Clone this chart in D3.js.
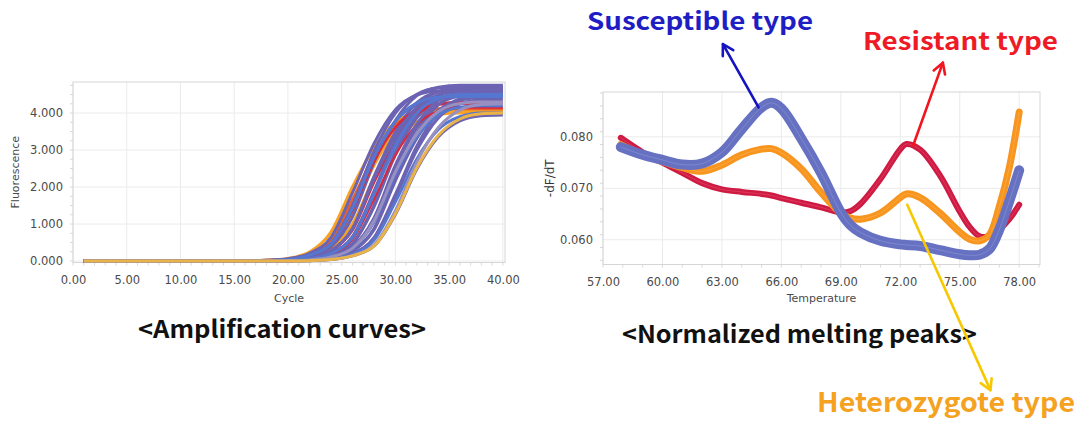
<!DOCTYPE html>
<html><head><meta charset="utf-8">
<script src="https://cdn.jsdelivr.net/npm/d3@7"></script>
<style>html,body{margin:0;padding:0;background:#fff;}svg{display:block;}</style>
</head><body>
<svg id="c" width="1082" height="428"></svg>
<script>
// ---------------- DATA ----------------
// Amplification curves (left)
const ampCycles = [1, 16, 18, 20, 22, 24, 26, 28, 30, 32, 34, 36, 38, 40];
const ampXTicks = [0, 5, 10, 15, 20, 25, 30, 35, 40];
const ampYTicks = [0, 1, 2, 3, 4];
const ampColorNames = ["purple", "blue", "grey", "yellow", "orange", "orangered", "red"];
const ampColors = ["#6c63b2", "#5577cf", "#9890c0", "#e9b347", "#f7a223", "#e9602c", "#d6293f"];
const ampGroups = [
  "orange","orange","orange","orange","orangered",
  "purple","purple","purple","purple","purple","purple",
  "red","red",
  "purple","purple","purple","purple","purple","purple",
  "red",
  "purple","purple","purple","purple","purple",
  "blue","blue","blue","blue","grey","grey","yellow"
];
const ampValues = [
  [0, 0.01, 0.02, 0.07, 0.24, 0.78, 2.00, 3.06, 3.75, 4.02, 4.08, 4.08, 4.08, 4.08],
  [0, 0.01, 0.02, 0.05, 0.18, 0.57, 1.62, 2.79, 3.60, 3.95, 4.05, 4.05, 4.05, 4.05],
  [0, 0, 0.01, 0.04, 0.14, 0.41, 1.31, 2.58, 3.49, 3.94, 4.08, 4.10, 4.10, 4.10],
  [0, 0, 0.01, 0.03, 0.10, 0.32, 1.00, 2.24, 3.20, 3.76, 3.96, 4.00, 4.00, 4.00],
  [0, 0.01, 0.02, 0.05, 0.19, 0.58, 1.65, 2.84, 3.67, 4.02, 4.12, 4.12, 4.12, 4.12],
  [0, 0.01, 0.02, 0.06, 0.21, 0.64, 1.84, 3.17, 4.09, 4.49, 4.60, 4.60, 4.60, 4.60],
  [0, 0, 0.01, 0.05, 0.16, 0.47, 1.50, 2.96, 4.00, 4.51, 4.68, 4.70, 4.70, 4.70],
  [0, 0, 0.01, 0.03, 0.12, 0.38, 1.19, 2.66, 3.80, 4.47, 4.70, 4.75, 4.75, 4.75],
  [0, 0, 0.01, 0.02, 0.08, 0.28, 0.88, 2.28, 3.49, 4.28, 4.58, 4.65, 4.65, 4.65],
  [0, 0, 0.01, 0.02, 0.06, 0.21, 0.64, 1.84, 3.17, 4.09, 4.49, 4.60, 4.60, 4.60],
  [0, 0, 0, 0.01, 0.05, 0.16, 0.46, 1.46, 2.87, 3.87, 4.37, 4.53, 4.55, 4.55],
  [0, 0, 0.01, 0.04, 0.15, 0.43, 1.36, 2.68, 3.61, 4.08, 4.23, 4.25, 4.25, 4.25],
  [0, 0, 0.01, 0.02, 0.08, 0.26, 0.82, 2.11, 3.23, 3.96, 4.24, 4.30, 4.30, 4.30],
  [0, 0, 0, 0.01, 0.05, 0.16, 0.47, 1.50, 2.95, 3.98, 4.49, 4.66, 4.68, 4.68],
  [0, 0, 0, 0.01, 0.03, 0.11, 0.36, 1.13, 2.52, 3.60, 4.23, 4.46, 4.50, 4.50],
  [0, 0, 0, 0.01, 0.02, 0.08, 0.27, 0.84, 2.17, 3.32, 4.07, 4.35, 4.42, 4.42],
  [0, 0, 0, 0.01, 0.02, 0.08, 0.28, 0.87, 2.25, 3.45, 4.23, 4.53, 4.60, 4.60],
  [0, 0, 0, 0.01, 0.02, 0.06, 0.20, 0.61, 1.74, 3.00, 3.87, 4.24, 4.35, 4.35],
  [0, 0, 0, 0, 0.01, 0.04, 0.14, 0.40, 1.26, 2.49, 3.36, 3.79, 3.93, 3.95],
  [0, 0, 0.01, 0.02, 0.05, 0.19, 0.58, 1.66, 2.86, 3.69, 4.05, 4.15, 4.15, 4.15],
  [0, 0, 0.01, 0.02, 0.08, 0.27, 0.86, 2.21, 3.38, 4.14, 4.43, 4.50, 4.50, 4.50],
  [0, 0, 0.01, 0.02, 0.06, 0.21, 0.66, 1.88, 3.24, 4.18, 4.58, 4.70, 4.70, 4.70],
  [0, 0, 0, 0.01, 0.03, 0.12, 0.37, 1.16, 2.59, 3.70, 4.34, 4.57, 4.62, 4.62],
  [0, 0, 0, 0.01, 0.02, 0.06, 0.20, 0.63, 1.80, 3.11, 4.01, 4.39, 4.50, 4.50],
  [0, 0, 0.01, 0.04, 0.16, 0.45, 1.42, 2.80, 3.78, 4.27, 4.43, 4.45, 4.45, 4.45],
  [0, 0, 0.01, 0.02, 0.06, 0.20, 0.63, 1.80, 3.11, 4.01, 4.39, 4.50, 4.50, 4.50],
  [0, 0, 0, 0.01, 0.03, 0.11, 0.34, 1.05, 2.35, 3.36, 3.95, 4.16, 4.20, 4.20],
  [0, 0, 0, 0.01, 0.02, 0.05, 0.18, 0.56, 1.60, 2.76, 3.56, 3.90, 4.00, 4.00],
  [0, 0, 0.01, 0.04, 0.16, 0.45, 1.42, 2.80, 3.78, 4.27, 4.43, 4.45, 4.45, 4.45],
  [0, 0, 0, 0.01, 0.03, 0.11, 0.34, 1.08, 2.41, 3.44, 4.04, 4.26, 4.30, 4.30],
  [0, 0, 0, 0, 0.01, 0.04, 0.15, 0.43, 1.36, 2.68, 3.61, 4.08, 4.23, 4.25],
  [0, 0, 0, 0, 0.01, 0.04, 0.14, 0.40, 1.28, 2.52, 3.40, 3.84, 3.98, 4.00]
];

// Normalized melting peaks (right)
const meltTemps = [57.9, 59, 60, 61, 62, 63, 64, 65, 65.5, 66, 67, 68, 69, 69.5, 70, 71, 72, 72.3, 73, 74, 75, 75.5, 76, 76.5, 77, 77.5, 78];
const meltResistant = [0.0798, 0.0770, 0.0750, 0.0730, 0.0710, 0.0698, 0.0693, 0.0689, 0.0686, 0.0681, 0.0672, 0.0663, 0.0653, 0.0656, 0.0670, 0.0718, 0.0776, 0.0786, 0.0775, 0.0725, 0.0655, 0.0625, 0.0607, 0.0607, 0.0620, 0.0640, 0.0668];
const meltHeterozygote = [0.0785, 0.0765, 0.0752, 0.0740, 0.0733, 0.0745, 0.0765, 0.0776, 0.0777, 0.0769, 0.0738, 0.0692, 0.0652, 0.0642, 0.0640, 0.0652, 0.0682, 0.0689, 0.0682, 0.0652, 0.0615, 0.0601, 0.0598, 0.0610, 0.0665, 0.0740, 0.0848];
const meltSusceptible = [0.0780, 0.0765, 0.0755, 0.0746, 0.0748, 0.0770, 0.0815, 0.0857, 0.0866, 0.0855, 0.0797, 0.0730, 0.0653, 0.0628, 0.0614, 0.0598, 0.0591, 0.0590, 0.0588, 0.0580, 0.0572, 0.0570, 0.0571, 0.0582, 0.0620, 0.0675, 0.0735];
const meltXTicks = [57, 60, 63, 66, 69, 72, 75, 78];
const meltYTicks = [0.060, 0.070, 0.080];

// Annotations
const annLabels = ["Susceptible type", "Resistant type", "Heterozygote type"];
const annColors = ["#1e1ec4", "#ee1b27", "#f4a21f"];
const arrowColors = ["#1414c0", "#f2141e", "#f7c800"];
// arrow start (on curve) and tip, in data units of the melting chart
const arrowFromT = [64.85, 72.65, 72.35];
const arrowFromV = [0.0857, 0.0783, 0.0668];
const arrowToT = [63.05, 74.15, 76.55];
const arrowToV = [0.0980, 0.0944, 0.0308];

const titles = ["<Amplification curves>", "<Normalized melting peaks>"];

// ---------------- DRAW ----------------
const svg = d3.select("#c");
const tickFont = "DejaVu Sans, Verdana, sans-serif";
const gridCol = "#ebebeb", frameCol = "#d6d6d6", labCol = "#4a4a4a";

function drawFrame(g, x, y, xt, yt, xFmt, yFmt, xMinor, yMinor) {
  const [x0, x1] = x.range(), [y0, y1] = y.range();
  g.append("rect").attr("x", x0).attr("y", y1).attr("width", x1 - x0).attr("height", y0 - y1)
    .attr("fill", "#fff");
  g.selectAll(".gx").data(xt).join("line")
    .attr("x1", d => x(d)).attr("x2", d => x(d)).attr("y1", y1).attr("y2", y0)
    .attr("stroke", gridCol).attr("stroke-width", 1);
  g.selectAll(".gy").data(yt).join("line")
    .attr("x1", x0).attr("x2", x1).attr("y1", d => y(d)).attr("y2", d => y(d))
    .attr("stroke", gridCol).attr("stroke-width", 1);
  g.selectAll(".mx").data(xMinor).join("line")
    .attr("x1", d => x(d)).attr("x2", d => x(d)).attr("y1", y0).attr("y2", y0 + 3)
    .attr("stroke", "#d8d8d8");
  g.selectAll(".my").data(yMinor).join("line")
    .attr("x1", x0 - 3).attr("x2", x0).attr("y1", d => y(d)).attr("y2", d => y(d))
    .attr("stroke", "#d8d8d8");
  g.append("rect").attr("x", x0).attr("y", y1).attr("width", x1 - x0).attr("height", y0 - y1)
    .attr("fill", "none").attr("stroke", frameCol).attr("stroke-width", 1);

  const ax = g.append("g").attr("transform", `translate(0,${y0})`)
    .call(d3.axisBottom(x).tickValues(xt).tickFormat(xFmt).tickSize(0).tickPadding(13));
  ax.select(".domain").remove();
  ax.selectAll("text").attr("font-family", tickFont).attr("font-size", 11.5).attr("fill", labCol);
  const ay = g.append("g").attr("transform", `translate(${x0},0)`)
    .call(d3.axisLeft(y).tickValues(yt).tickFormat(yFmt).tickSize(0).tickPadding(10));
  ay.select(".domain").remove();
  ay.selectAll("text").attr("font-family", tickFont).attr("font-size", 11.5).attr("fill", labCol);
}

// ---- Left chart ----
const xA = d3.scaleLinear().domain([0, 40.2]).range([73, 505]);
const yA = d3.scaleLinear().domain([-0.04, 4.84]).range([262.5, 82]);
const gA = svg.append("g");
drawFrame(gA, xA, yA, ampXTicks, ampYTicks, d3.format(".2f"), d3.format(".3f"),
  d3.range(0, 41, 1), d3.range(0, 4.81, 0.25));

const lineA = d3.line().x((d, i) => xA(ampCycles[i])).y(d => yA(d)).curve(d3.curveMonotoneX);
const colorA = d3.scaleOrdinal().domain(ampColorNames).range(ampColors);
gA.append("g").selectAll("path").data(ampValues).join("path")
  .attr("d", d => lineA(d))
  .attr("fill", "none")
  .attr("stroke", (d, i) => colorA(ampGroups[i]))
  .attr("stroke-width", (d, i) => ampGroups[i] === "red" ? 2.3 : 3)
  .attr("stroke-linejoin", "round");

gA.append("text").attr("x", (xA.range()[0] + xA.range()[1]) / 2).attr("y", 302)
  .attr("text-anchor", "middle").attr("font-family", tickFont).attr("font-size", 11).attr("fill", labCol)
  .text("Cycle");
gA.append("text").attr("transform", `translate(19,${(yA.range()[0] + yA.range()[1]) / 2}) rotate(-90)`)
  .attr("text-anchor", "middle").attr("font-family", tickFont).attr("font-size", 11).attr("fill", labCol)
  .text("Fluorescence");

// ---- Right chart ----
const xM = d3.scaleLinear().domain([57, 79.05]).range([603, 1040]);
const yM = d3.scaleLinear().domain([0.0552, 0.0887]).range([264.5, 92]);
const gM = svg.append("g");
drawFrame(gM, xM, yM, meltXTicks, meltYTicks, d3.format(".2f"), d3.format(".3f"),
  d3.range(57, 79.01, 1), d3.range(0.056, 0.0886, 0.0025));

const lineM = d3.line().x((d, i) => xM(meltTemps[i])).y(d => yM(d)).curve(d3.curveCatmullRom.alpha(0.5));
const meltSeries = [
  {v: meltResistant, c: "#cf1b43", w: 6, hi: "#e44d6c"},
  {v: meltHeterozygote, c: "#f8951f", w: 7, hi: "#fbb04e"},
  {v: meltSusceptible, c: "#6671c2", w: 10, hi: "#8d96d6"}
];
meltSeries.forEach(s => {
  gM.append("path").attr("d", lineM(s.v)).attr("fill", "none")
    .attr("stroke", s.c).attr("stroke-width", s.w).attr("stroke-linecap", "round").attr("stroke-linejoin", "round");
  gM.append("path").attr("d", lineM(s.v)).attr("fill", "none")
    .attr("stroke", s.hi).attr("stroke-width", 1).attr("stroke-opacity", 0.6);
});

gM.append("text").attr("x", (xM.range()[0] + xM.range()[1]) / 2).attr("y", 302)
  .attr("text-anchor", "middle").attr("font-family", tickFont).attr("font-size", 11).attr("fill", labCol)
  .text("Temperature");
gM.append("text").attr("transform", `translate(554,${(yM.range()[0] + yM.range()[1]) / 2}) rotate(-90)`)
  .attr("text-anchor", "middle").attr("font-family", tickFont).attr("font-size", 12).attr("fill", "#333")
  .text("-dF/dT");

// ---- Titles ----
const titleFont = "'Noto Sans CJK KR', 'Noto Sans', sans-serif";
const titlePos = [{x: 138, y: 338, L: 288}, {x: 622, y: 343, L: 355}];
titles.forEach((t, i) => {
  svg.append("text").attr("x", titlePos[i].x).attr("y", titlePos[i].y)
    .attr("font-family", titleFont).attr("font-weight", 700).attr("font-size", 24)
    .attr("fill", "#111").attr("textLength", titlePos[i].L).attr("lengthAdjust", "spacingAndGlyphs")
    .text(t);
});

// ---- Annotations ----
const annPos = [{x: 587, y: 30, L: 226, s: 24}, {x: 863, y: 50, L: 195, s: 24}, {x: 817, y: 412, L: 258, s: 27}];
annLabels.forEach((t, i) => {
  svg.append("text").attr("x", annPos[i].x).attr("y", annPos[i].y)
    .attr("font-family", titleFont).attr("font-weight", 700).attr("font-size", annPos[i].s)
    .attr("fill", annColors[i]).attr("textLength", annPos[i].L).attr("lengthAdjust", "spacingAndGlyphs")
    .text(t);
});
annLabels.forEach((t, i) => {
  const x1 = xM(arrowFromT[i]), y1 = yM(arrowFromV[i]);
  const x2 = xM(arrowToT[i]), y2 = yM(arrowToV[i]);
  const ang = Math.atan2(y2 - y1, x2 - x1);
  const hl = 12, ha = Math.PI / 6;
  const g = svg.append("g").attr("stroke", arrowColors[i]).attr("stroke-width", 2.6)
    .attr("stroke-linecap", "round").attr("fill", "none");
  g.append("line").attr("x1", x1).attr("y1", y1).attr("x2", x2).attr("y2", y2);
  g.append("path").attr("d",
    `M${x2 - hl * Math.cos(ang - ha)},${y2 - hl * Math.sin(ang - ha)}L${x2},${y2}L${x2 - hl * Math.cos(ang + ha)},${y2 - hl * Math.sin(ang + ha)}`)
    .attr("stroke-linejoin", "round");
});
</script>
</body></html>
